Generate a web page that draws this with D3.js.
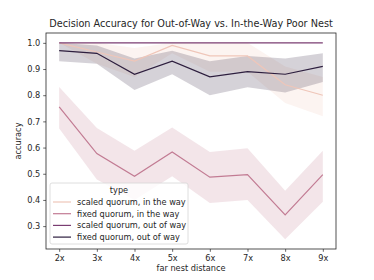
<!DOCTYPE html>
<html>
<head>
<meta charset="utf-8">
<script src="https://cdn.jsdelivr.net/npm/d3@7"></script>
<style>
  body { margin: 0; background: #fff; }
  text { font-family: "DejaVu Sans", sans-serif; fill: #262626; }
</style>
</head>
<body>
<div id="chart"></div>
<script>
// data
var distances = ["2x", "3x", "4x", "5x", "6x", "7x", "8x", "9x"];
var types = ["scaled quorum, in the way", "fixed quorum, in the way", "scaled quorum, out of way", "fixed quorum, out of way"];
var colors = ["#efc6b9", "#c27b93", "#7a3d72", "#2d1e3e"];

var scaledIn = [1.0, 0.965, 0.93, 0.99, 0.95, 0.95, 0.84, 0.80];
var scaledInLo = [1.0, 0.92, 0.87, 0.96, 0.89, 0.89, 0.77, 0.72];
var scaledInHi = [1.0, 1.0, 0.98, 1.0, 1.0, 1.0, 0.91, 0.87];

var fixedIn = [0.755, 0.577, 0.49, 0.583, 0.487, 0.497, 0.343, 0.497];
var fixedInLo = [0.673, 0.478, 0.40, 0.49, 0.388, 0.40, 0.25, 0.393];
var fixedInHi = [0.831, 0.675, 0.588, 0.677, 0.583, 0.597, 0.435, 0.588];

var scaledOut = [1.0, 1.0, 1.0, 1.0, 1.0, 1.0, 1.0, 1.0];

var fixedOut = [0.97, 0.96, 0.88, 0.93, 0.87, 0.89, 0.88, 0.91];
var fixedOutLo = [0.93, 0.92, 0.82, 0.88, 0.80, 0.83, 0.81, 0.85];
var fixedOutHi = [1.0, 0.99, 0.94, 0.97, 0.93, 0.95, 0.94, 0.96];

var yTicks = [0.3, 0.4, 0.5, 0.6, 0.7, 0.8, 0.9, 1.0];

var svgWidth = 374, svgHeight = 280;
var margin = {top: 33, right: 38, bottom: 31, left: 46};
var width = svgWidth - margin.left - margin.right;
var height = svgHeight - margin.top - margin.bottom;

var svg = d3.select("#chart").append("svg")
  .attr("width", svgWidth)
  .attr("height", svgHeight);

var chartGroup = svg.append("g")
  .attr("transform", `translate(${margin.left}, ${margin.top})`);

// matplotlib style 5% margins
var x = d3.scaleLinear().domain([-0.35, 7.35]).range([0, width]);
var y = d3.scaleLinear().domain([0.2126, 1.0376]).range([height, 0]);

var series = [
  {vals: scaledIn, lo: scaledInLo, hi: scaledInHi, color: colors[0]},
  {vals: fixedIn, lo: fixedInLo, hi: fixedInHi, color: colors[1]},
  {vals: scaledOut, lo: null, hi: null, color: colors[2]},
  {vals: fixedOut, lo: fixedOutLo, hi: fixedOutHi, color: colors[3]}
];

var area = d3.area()
  .x(d => x(d.i))
  .y0(d => y(d.lo))
  .y1(d => y(d.hi));

var line = d3.line()
  .x((d, i) => x(i))
  .y(d => y(d));

series.forEach(function(s) {
  if (s.lo) {
    var band = s.vals.map((v, i) => ({i: i, lo: s.lo[i], hi: s.hi[i]}));
    chartGroup.append("path")
      .datum(band)
      .attr("d", area)
      .attr("fill", s.color)
      .attr("fill-opacity", 0.2);
  }
});
series.forEach(function(s) {
  chartGroup.append("path")
    .datum(s.vals)
    .attr("d", line)
    .attr("fill", "none")
    .attr("stroke", s.color)
    .attr("stroke-width", 1.2);
});

// axes
var xAxis = d3.axisBottom(x)
  .tickValues(d3.range(distances.length))
  .tickFormat(i => distances[i])
  .tickSize(2.8).tickPadding(3);
var yAxis = d3.axisLeft(y)
  .tickValues(yTicks)
  .tickFormat(d3.format(".1f"))
  .tickSize(2.8).tickPadding(3);

var gx = chartGroup.append("g")
  .attr("transform", `translate(0, ${height})`)
  .call(xAxis);
var gy = chartGroup.append("g").call(yAxis);

[gx, gy].forEach(function(g) {
  g.select(".domain").remove();
  g.selectAll("line").attr("stroke", "#262626").attr("stroke-width", 0.7);
  g.selectAll("text").style("font-size", "8.2px").attr("fill", "#262626");
});

chartGroup.append("rect")
  .attr("width", width).attr("height", height)
  .attr("fill", "none").attr("stroke", "#262626").attr("stroke-width", 0.8);

// labels
svg.append("text")
  .attr("x", margin.left + width / 2).attr("y", 27)
  .attr("text-anchor", "middle").style("font-size", "9.7px")
  .text("Decision Accuracy for Out-of-Way vs. In-the-Way Poor Nest");

svg.append("text")
  .attr("x", margin.left + width / 2).attr("y", 271)
  .attr("text-anchor", "middle").style("font-size", "8.2px")
  .text("far nest distance");

svg.append("text")
  .attr("transform", `translate(21, ${margin.top + height / 2}) rotate(-90)`)
  .attr("text-anchor", "middle").style("font-size", "8.2px")
  .text("accuracy");

// legend
var legend = svg.append("g").attr("transform", "translate(50, 183)");
legend.append("rect")
  .attr("width", 138).attr("height", 61).attr("rx", 2)
  .attr("fill", "#fff").attr("fill-opacity", 0.8)
  .attr("stroke", "#d6d6d6").attr("stroke-width", 0.8);
legend.append("text")
  .attr("x", 69).attr("y", 10)
  .attr("text-anchor", "middle").style("font-size", "8.2px")
  .text("type");
types.forEach(function(t, i) {
  var ly = 19 + i * 11.7;
  legend.append("line")
    .attr("x1", 3).attr("x2", 21).attr("y1", ly).attr("y2", ly)
    .attr("stroke", colors[i]).attr("stroke-width", 1.2);
  legend.append("text")
    .attr("x", 27).attr("y", ly + 3)
    .style("font-size", "8.2px")
    .text(t);
});
</script>
</body>
</html>
